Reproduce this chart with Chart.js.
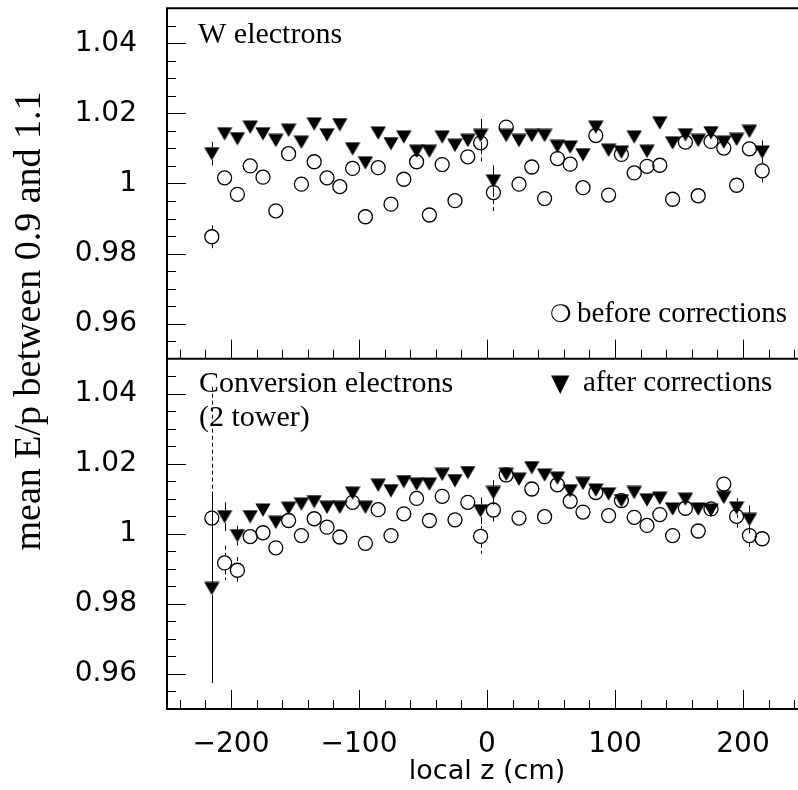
<!DOCTYPE html>
<html><head><meta charset="utf-8">
<script src="https://cdn.jsdelivr.net/npm/chart.js@4.4.1/dist/chart.umd.min.js"></script>
<style>html,body{margin:0;padding:0;overflow:hidden;background:#fff;}#wrap{width:798px;height:790px;overflow:hidden;position:relative;}</style>
</head><body><div id="wrap"><canvas id="c" width="820" height="790" style="width:820px;height:790px;display:block"></canvas></div>
<script>
// ---- data ----
const localZ = [-215,-205,-195,-185,-175,-165,-155,-145,-135,-125,-115,-105,-95,-85,-75,-65,-55,-45,-35,-25,-15,-5,5,15,25,35,45,55,65,75,85,95,105,115,125,135,145,155,165,175,185,195,205,215];
const wBefore = [0.9848,1.0016,0.9969,1.0050,1.0018,0.9922,1.0085,0.9998,1.0062,1.0016,0.9991,1.0043,0.9905,1.0045,0.9941,1.0012,1.0062,0.9910,1.0054,0.9951,1.0076,1.0116,0.9974,1.0161,0.9998,1.0047,0.9957,1.0071,1.0055,0.9988,1.0137,0.9967,1.0083,1.0030,1.0049,1.0052,0.9955,1.0118,0.9965,1.0120,1.0101,0.9995,1.0099,1.0036];
const wAfter = [1.0085,1.0142,1.0128,1.0161,1.0142,1.0123,1.0152,1.0118,1.0170,1.0139,1.0168,1.0099,1.0059,1.0144,1.0114,1.0133,1.0092,1.0092,1.0133,1.0109,1.0123,1.0137,1.0007,1.0137,1.0123,1.0137,1.0137,1.0106,1.0104,1.0082,1.0161,1.0095,1.0090,1.0133,1.0092,1.0173,1.0116,1.0139,1.0123,1.0145,1.0118,1.0126,1.0149,1.0090];
const wBeforeErr = [0.0033,0.0015,0.0015,0.0015,0.0015,0.0015,0.0015,0.0015,0.0015,0.0015,0.0015,0.0015,0.0015,0.0015,0.0015,0.0015,0.0015,0.0015,0.0015,0.0015,0.0015,0.0055,0.0055,0.0015,0.0015,0.0015,0.0015,0.0015,0.0015,0.0015,0.0015,0.0015,0.0015,0.0015,0.0015,0.0015,0.0015,0.0015,0.0015,0.0015,0.0015,0.0015,0.0015,0.0036];
const wAfterErr = [0.0033,0.0015,0.0015,0.0015,0.0015,0.0015,0.0015,0.0015,0.0015,0.0015,0.0015,0.0015,0.0015,0.0015,0.0015,0.0015,0.0015,0.0015,0.0015,0.0015,0.0015,0.0047,0.0045,0.0015,0.0015,0.0015,0.0015,0.0015,0.0015,0.0015,0.0015,0.0015,0.0015,0.0015,0.0015,0.0015,0.0015,0.0015,0.0015,0.0015,0.0015,0.0015,0.0015,0.0033];
const convBefore = [1.0045,0.9917,0.9896,0.9992,1.0003,0.9960,1.0038,0.9995,1.0043,1.0019,0.9991,1.0090,0.9973,1.0069,0.9995,1.0057,1.0101,1.0038,1.0107,1.0040,1.0090,0.9993,1.0068,1.0168,1.0045,1.0128,1.0049,1.0140,1.0093,1.0062,1.0118,1.0052,1.0095,1.0047,1.0024,1.0055,0.9995,1.0073,1.0008,1.0071,1.0142,1.0050,0.9995,0.9986];
const convAfter = [0.9844,1.0049,0.9995,1.0049,1.0068,1.0033,1.0073,1.0085,1.0092,1.0076,1.0076,1.0116,1.0076,1.0139,1.0123,1.0149,1.0142,1.0142,1.0170,1.0152,1.0175,1.0066,1.0118,1.0170,1.0156,1.0189,1.0168,1.0159,1.0123,1.0144,1.0125,1.0114,1.0095,1.0118,1.0097,1.0102,1.0071,1.0099,1.0071,1.0068,1.0104,1.0074,1.0041,null];
const convBeforeErr = [0.0375,0.0049,0.0038,0.0015,0.0015,0.0015,0.0015,0.0015,0.0015,0.0015,0.0015,0.0015,0.0015,0.0015,0.0015,0.0015,0.0015,0.0015,0.0015,0.0015,0.0015,0.0050,0.0040,0.0015,0.0015,0.0015,0.0015,0.0015,0.0015,0.0015,0.0015,0.0015,0.0015,0.0015,0.0015,0.0015,0.0015,0.0015,0.0015,0.0015,0.0015,0.0036,0.0043,0.0015];
const convAfterErr = [0.0270,0.0041,0.0028,0.0015,0.0015,0.0015,0.0015,0.0015,0.0015,0.0015,0.0015,0.0015,0.0015,0.0015,0.0015,0.0015,0.0015,0.0015,0.0015,0.0015,0.0015,0.0038,0.0035,0.0015,0.0015,0.0015,0.0015,0.0015,0.0015,0.0015,0.0015,0.0015,0.0015,0.0015,0.0015,0.0015,0.0015,0.0015,0.0015,0.0015,0.0015,0.0028,0.0040,0];
const xMajorTicks = [-200,-100,0,100,200];
const xMinorTicks = [-240,-220,-180,-160,-140,-120,-80,-60,-40,-20,20,40,60,80,120,140,160,180,220,240];
const yMajorTicks = [0.96,0.98,1.00,1.02,1.04];
const yMinorTicks = [0.955,0.965,0.97,0.975,0.985,0.99,0.995,1.005,1.01,1.015,1.025,1.03,1.035,1.045];
const panelLabels = ['W electrons', 'Conversion electrons', '(2 tower)'];
const legendLabels = ['before corrections', 'after corrections'];
const xTitle = 'local z (cm)';
const yTitle = 'mean E/p between 0.9 and 1.1';

// ---- marker image: filled downward triangle centred on its box ----
const tri = document.createElement('canvas');
tri.width = 16; tri.height = 14;
(function(){const t=tri.getContext('2d');t.fillStyle='#000';t.beginPath();t.moveTo(0.3,0.5);t.lineTo(15.7,0.5);t.lineTo(8,13.8);t.closePath();t.fill();})();

const pts = (ys) => localZ.map((x,i)=>({x:x,y:ys[i]})).filter(p=>p.y!==null);

const circleDs = (ys, axis) => ({data:pts(ys), yAxisID:axis, pointStyle:'circle', pointRadius:7, borderWidth:1.3, borderColor:'#000', backgroundColor:'rgba(0,0,0,0)', order:2, showLine:false});
const triDs = (ys, axis) => ({data:pts(ys), yAxisID:axis, pointStyle:tri, pointRadius:7, borderWidth:0, borderColor:'#000', backgroundColor:'#000', order:1, showLine:false});

const serif = '"Liberation Serif","Times New Roman",serif';

const yAxisCommon = {
  type:'linear', position:'left', stack:'panels', stackWeight:1, min:0.95, max:1.05,
  afterBuildTicks: s => { s.ticks = yMajorTicks.map(v=>({value:v})); },
  afterFit: s => { s.width = 167; s.paddingTop = 0; s.paddingBottom = 0; },
  grid:{display:false, drawTicks:false}, border:{display:false},
  ticks:{color:'#000', font:{family:'DejaVu Sans', size:28}, padding:30, callback: v => (Math.abs(v-1)<1e-9 ? '1' : v.toFixed(2))}
};

const framePlugin = {
  id:'frame',
  beforeDatasetsDraw(chart){
    const ctx = chart.ctx, x = chart.scales.x;
    const drawErr = (ys, es, yS, gap, dash) => {
      ctx.save();
      ctx.strokeStyle='#000'; ctx.lineWidth=1; ctx.setLineDash(dash);
      ys.forEach((v,i)=>{
        if (v===null || !es[i]) return;
        const px = Math.round(x.getPixelForValue(localZ[i]))+0.5;
        const p0 = yS.getPixelForValue(v), pt = Math.max(yS.getPixelForValue(v+es[i]), yS.top), pb = Math.min(yS.getPixelForValue(v-es[i]), yS.bottom);
        ctx.beginPath();
        if (p0-pt>gap){ctx.moveTo(px,pt);ctx.lineTo(px,p0-gap);}
        if (pb-p0>gap){ctx.moveTo(px,p0+gap);ctx.lineTo(px,pb);}
        ctx.stroke();
      });
      ctx.restore();
    };
    const yT = chart.scales.yTop, yB = chart.scales.yBot;
    drawErr(wBefore, wBeforeErr, yT, 7.5, [4,3]);
    drawErr(wAfter, wAfterErr, yT, 6.5, []);
    drawErr(convBefore, convBeforeErr, yB, 7.5, [4,3]);
    drawErr(convAfter, convAfterErr, yB, 6.5, []);
  },
  afterDraw(chart){
    const ctx = chart.ctx, a = chart.chartArea, x = chart.scales.x;
    const yT = chart.scales.yTop, yB = chart.scales.yBot;
    ctx.save();
    ctx.strokeStyle = '#000';
    ctx.lineWidth = 1;
    ctx.beginPath();
    [yT, yB].forEach(yS => {
      yMajorTicks.forEach(v => { const p = Math.round(yS.getPixelForValue(v))+0.5; ctx.moveTo(a.left, p); ctx.lineTo(a.left+19, p); });
      yMinorTicks.forEach(v => { const p = Math.round(yS.getPixelForValue(v))+0.5; ctx.moveTo(a.left, p); ctx.lineTo(a.left+9, p); });
      xMajorTicks.forEach(v => { const p = Math.round(x.getPixelForValue(v))+0.5; ctx.moveTo(p, yS.bottom); ctx.lineTo(p, yS.bottom-19); });
      xMinorTicks.forEach(v => { const p = Math.round(x.getPixelForValue(v))+0.5; ctx.moveTo(p, yS.bottom); ctx.lineTo(p, yS.bottom-9); });
    });
    ctx.stroke();
    ctx.lineWidth = 2;
    ctx.beginPath();
    ctx.rect(a.left, a.top, a.right-a.left, a.bottom-a.top);
    ctx.moveTo(a.left, yT.bottom); ctx.lineTo(a.right, yT.bottom);
    ctx.stroke();
    ctx.fillStyle = '#000';
    ctx.textBaseline = 'alphabetic';
    ctx.textAlign = 'left';
    ctx.font = '30px ' + serif;
    ctx.fillText(panelLabels[0], 198, 43);
    ctx.fillText(panelLabels[1], 199, 392);
    ctx.fillText(panelLabels[2], 199, 426);
    ctx.font = '29px ' + serif;
    ctx.fillText(legendLabels[0], 577, 322);
    ctx.fillText(legendLabels[1], 583, 391);
    ctx.font = '24px "DejaVu Sans",' + serif;
    ctx.fillText('\u274D', 550, 322);
    ctx.fillText('\u25BC', 551, 391);
    ctx.translate(40, 321);
    ctx.rotate(-Math.PI/2);
    ctx.textAlign = 'center';
    ctx.font = '38px ' + serif;
    ctx.fillText(yTitle, 0, 0);
    ctx.restore();
  }
};

new Chart(document.getElementById('c'), {
  type:'scatter',
  data:{datasets:[
    triDs(wAfter,'yTop'), circleDs(wBefore,'yTop'),
    triDs(convAfter,'yBot'), circleDs(convBefore,'yBot')
  ]},
  options:{
    responsive:false, animation:false, events:[],
    layout:{padding:{top:7, right:13, left:0, bottom:0}},
    plugins:{legend:{display:false}, tooltip:{enabled:false}},
    scales:{
      x:{type:'linear', position:'bottom', min:-250, max:250,
        afterBuildTicks: s => { s.ticks = xMajorTicks.map(v=>({value:v})); },
        afterFit: s => { s.height = 81; s.paddingLeft = 0; s.paddingRight = 0; },
        grid:{display:false, drawTicks:false}, border:{display:false},
        ticks:{color:'#000', font:{family:'DejaVu Sans', size:28}, padding:19, maxRotation:0, autoSkip:false,
          callback: v => (v<0 ? '\u2212'+Math.abs(v) : String(v))},
        title:{display:true, text:xTitle, color:'#000', font:{family:'DejaVu Sans', size:27}, padding:{top:0,bottom:2}}
      },
      yBot: Object.assign({}, yAxisCommon),
      yTop: Object.assign({}, yAxisCommon)
    }
  },
  plugins:[framePlugin]
});
</script></body></html>
